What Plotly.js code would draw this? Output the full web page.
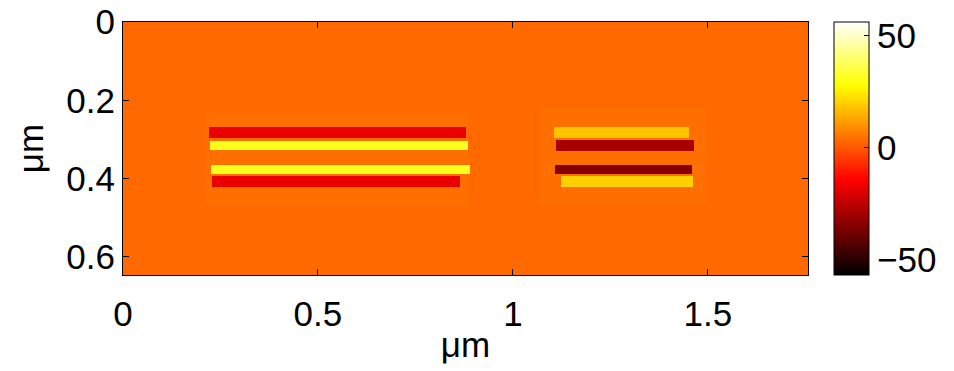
<!DOCTYPE html>
<html>
<head>
<meta charset="utf-8">
<script src="https://cdn.plot.ly/plotly-3.0.1.min.js"></script>
<style>html,body{margin:0;padding:0;background:#fff;}#chart{width:954px;height:371px;}</style>
</head>
<body>
<div id="chart"></div>
<script>
// Axis extents (µm)
const xExtent = [0, 1.757];
const yExtent = [0, 0.646];

// Background field value
const backgroundValue = 2.8;

// Faint halo regions around each group
const haloX0 = [0.213, 1.070];
const haloX1 = [0.886, 1.495];
const haloY0 = [0.232, 0.216];
const haloY1 = [0.467, 0.462];
const haloValue = [3.8, 3.8];

// Stripes (left group: 4 stripes, right group: 4 stripes)
const stripeX0 = [0.221, 0.224, 0.226, 0.228, 1.106, 1.111, 1.108, 1.124];
const stripeX1 = [0.881, 0.886, 0.891, 0.865, 1.453, 1.464, 1.459, 1.462];
const stripeY0 = [0.268, 0.304, 0.364, 0.394, 0.268, 0.302, 0.364, 0.394];
const stripeY1 = [0.296, 0.328, 0.387, 0.421, 0.296, 0.329, 0.387, 0.421];
const stripeValue = [-18, 31, 31, -18, 18, -29, -35, 20];

// Colorbar
const colorTicks = [-50, 0, 50];
const zRange = [-57, 56];

const xTicks = [0, 0.5, 1, 1.5];
const yTicks = [0, 0.2, 0.4, 0.6];

// Build the grid of cell edges and values from the rectangles above
const rects = [];
haloX0.forEach((_, i) => rects.push([haloX0[i], haloX1[i], haloY0[i], haloY1[i], haloValue[i]]));
stripeX0.forEach((_, i) => rects.push([stripeX0[i], stripeX1[i], stripeY0[i], stripeY1[i], stripeValue[i]]));

const uniq = a => Array.from(new Set(a)).sort((p, q) => p - q);
const xEdges = uniq([xExtent[0], xExtent[1]].concat(rects.map(r => r[0]), rects.map(r => r[1])));
const yEdges = uniq([yExtent[0], yExtent[1]].concat(rects.map(r => r[2]), rects.map(r => r[3])));

const z = [];
for (let j = 0; j < yEdges.length - 1; j++) {
  const yc = (yEdges[j] + yEdges[j + 1]) / 2;
  const row = [];
  for (let i = 0; i < xEdges.length - 1; i++) {
    const xc = (xEdges[i] + xEdges[i + 1]) / 2;
    let v = backgroundValue;
    rects.forEach(r => { if (xc > r[0] && xc < r[1] && yc > r[2] && yc < r[3]) v = r[4]; });
    row.push(v);
  }
  z.push(row);
}

const hot = [
  [0, 'rgb(0,0,0)'],
  [0.375, 'rgb(255,0,0)'],
  [0.75, 'rgb(255,255,0)'],
  [1, 'rgb(255,255,255)']
];

const font = {family: 'Liberation Sans, Arial, sans-serif', size: 35, color: '#000'};

const trace = {
  type: 'heatmap',
  x: xEdges,
  y: yEdges,
  z: z,
  zmin: zRange[0],
  zmax: zRange[1],
  colorscale: hot,
  hoverinfo: 'skip',
  colorbar: {
    x: 1.038, xanchor: 'left', xref: 'paper',
    y: 0.5, yanchor: 'middle', len: 1, lenmode: 'fraction',
    thickness: 35, thicknessmode: 'pixels',
    xpad: 0, ypad: 0,
    outlinewidth: 1, outlinecolor: '#000',
    ticks: 'inside', ticklen: 5, tickcolor: '#000',
    tickvals: colorTicks,
    tickfont: font
  }
};

const layout = {
  width: 954, height: 371,
  margin: {l: 123, r: 143, t: 22, b: 96},
  paper_bgcolor: '#fff', plot_bgcolor: '#fff',
  font: font,
  xaxis: {
    range: xExtent, tickvals: xTicks, ticktext: xTicks.map(String),
    ticks: 'inside', ticklen: 6, tickcolor: '#000',
    showline: true, linecolor: '#000', linewidth: 1, mirror: 'ticks',
    showgrid: false, zeroline: false, tickfont: font,
    ticklabelstandoff: 8,
    title: {text: 'μm', font: font, standoff: 0}
  },
  yaxis: {
    range: [yExtent[1], yExtent[0]], tickvals: yTicks, ticktext: yTicks.map(String),
    ticks: 'inside', ticklen: 6, tickcolor: '#000',
    showline: true, linecolor: '#000', linewidth: 1, mirror: 'ticks',
    showgrid: false, zeroline: false, tickfont: font,
    title: {text: 'μm', font: font, standoff: 12}
  }
};

Plotly.newPlot('chart', [trace], layout, {displayModeBar: false, staticPlot: true});
</script>
</body>
</html>
